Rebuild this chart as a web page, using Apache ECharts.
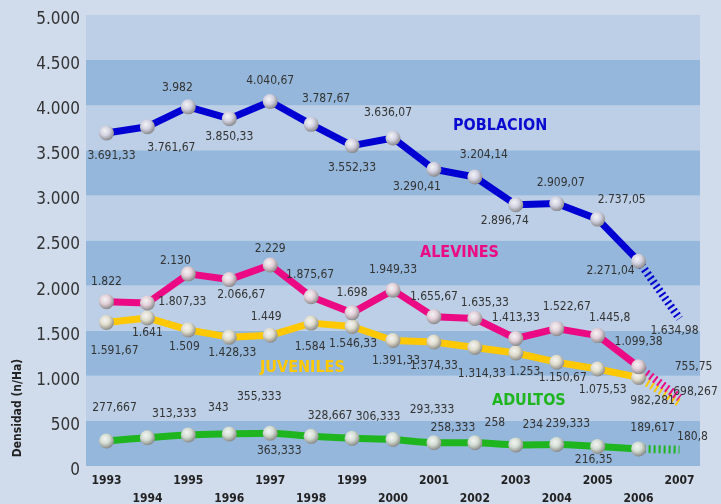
<!DOCTYPE html>
<html>
<head>
<meta charset="utf-8">
<script src="https://cdn.jsdelivr.net/npm/echarts@6/dist/echarts.min.js"></script>
<style>
    html, body { margin: 0; padding: 0; background: #d0dcec; }
    #chart { width: 721px; height: 504px; }
</style>
</head>
<body>
<div id="chart"></div>
<script>
const years = ["1993", "1994", "1995", "1996", "1997", "1998", "1999", "2000",
    "2001", "2002", "2003", "2004", "2005", "2006", "2007"];

const poblacion = [3691.33, 3761.67, 3982, 3850.33, 4040.67, 3787.67, 3552.33, 3636.07,
    3290.41, 3204.14, 2896.74, 2909.07, 2737.05, 2271.04, 1634.98];
const alevines = [1822, 1807.33, 2130, 2066.67, 2229, 1875.67, 1698, 1949.33,
    1655.67, 1635.33, 1413.33, 1522.67, 1445.8, 1099.38, 755.75];
const juveniles = [1591.67, 1641, 1509, 1428.33, 1449, 1584, 1546.33, 1391.33,
    1374.33, 1314.33, 1253, 1150.67, 1075.53, 982.281, 698.267];
const adultos = [277.667, 313.333, 343, 355.333, 363.333, 328.667, 306.333, 293.333,
    258.333, 258, 234, 239.333, 216.35, 189.617, 180.8];

const yMin = 0;
const yMax = 5000;
const yStep = 500;

// where each value label sits relative to its point (layout only)
const labelOffsets = {
    POBLACION: [[5, 23], [24, 21], [-11, -19], [0, 18], [0, -21], [15, -25], [0, 22], [-5, -25],
        [-17, 18], [9, -22], [-11, 16], [4, -21], [24, -19], [-28, 10], [-5, 12]],
    ALEVINES: [[0, -20], [35, -1], [-13, -13], [12, 15], [0, -16], [-1, -22], [0, -20], [0, -20],
        [0, -20], [10, -16], [0, -21], [10, -22], [12, -18], [0, -25], [14, -31]],
    JUVENILES: [[8, 28], [0, 15], [-4, 17], [3, 16], [-4, -18], [-1, 24], [1, 17], [3, 20],
        [0, 24], [7, 26], [9, 19], [6, 16], [5, 21], [14, 23], [16, -11]],
    ADULTOS: [[8, -33], [27, -24], [30, -27], [30, -37], [9, 18], [19, -20], [26, -21], [39, -30],
        [19, -15], [20, -20], [17, -20], [11, -21], [-4, 13], [14, -21], [13, -13]],
};

function fmtEs(v) {
    const parts = String(v).split(".");
    const int = parts[0].replace(/\B(?=(\d{3})+(?!\d))/g, ".");
    return parts.length > 1 ? int + "," + parts[1] : int;
}

function ball(tint) {
    return {
        type: "radial", x: 0.4, y: 0.35, r: 0.7,
        colorStops: [
            { offset: 0, color: "#f4f4f4" },
            { offset: 0.45, color: tint },
            { offset: 1, color: "#808080" },
        ],
    };
}

const labelFont = {
    fontFamily: "DejaVu Sans Condensed",
    fontSize: 12,
    color: "#333",
};

function buildSeries(name, values, color, tint, smooth) {
    const last = values.length - 1;
    const offsets = labelOffsets[name];
    const solid = values.map((v, i) => {
        if (i === last) return "-";
        return { value: v, label: { offset: offsets[i] } };
    });
    const dashed = values.map((v, i) => {
        if (i === last) {
            return {
                value: v,
                symbolSize: 2,
                itemStyle: { color: "rgba(0,0,0,0)" },
                label: { show: true, offset: offsets[i] },
            };
        }
        if (i === last - 1) {
            return { value: v, symbolSize: 0, itemStyle: { color: "rgba(0,0,0,0)" }, label: { show: false } };
        }
        return "-";
    });
    const fmt = (p) => fmtEs(p.value);
    return [
        {
            name: name,
            type: "line",
            data: solid,
            smooth: smooth,
            symbol: "circle",
            symbolSize: 15,
            itemStyle: { color: ball(tint) },
            lineStyle: { color: color, width: 7 },
            label: Object.assign({ show: true, position: "inside", formatter: fmt }, labelFont),
            z: 3,
        },
        {
            name: name + "_proj",
            type: "line",
            data: dashed,
            symbol: "circle",
            lineStyle: { color: color, width: 8, type: [2, 3] },
            label: Object.assign({ show: false, position: "inside", formatter: fmt }, labelFont),
            z: 2,
        },
    ];
}

const series = [].concat(
    buildSeries("ADULTOS", adultos, "#1fb51f", "#d3ddd3", 0.3),
    buildSeries("JUVENILES", juveniles, "#ffc800", "#e0ddcc", false),
    buildSeries("ALEVINES", alevines, "#ec0a84", "#e3d0d9", false),
    buildSeries("POBLACION", poblacion, "#0000d2", "#d2d2e3", false)
);

const seriesTitle = (text, x, y, color) => ({
    type: "text",
    x: x,
    y: y,
    z: 100,
    style: {
        text: text,
        fill: color,
        fontFamily: "DejaVu Sans Condensed",
        fontWeight: "bold",
        fontSize: 16,
    },
});

const chart = echarts.init(document.getElementById("chart"));
chart.setOption({
    backgroundColor: "#d0dcec",
    animation: false,
    grid: { left: 86, right: 21, top: 15, bottom: 38, outerBoundsMode: "none" },
    xAxis: {
        type: "category",
        data: years,
        boundaryGap: true,
        axisLine: { show: false },
        axisTick: { show: false },
        axisLabel: {
            interval: 0,
            margin: 6,
            fontFamily: "DejaVu Sans Condensed",
            fontWeight: "bold",
            fontSize: 12,
            lineHeight: 18,
            color: "#222",
            formatter: (v, i) => (i % 2 === 0 ? v : "\n" + v),
        },
    },
    yAxis: {
        type: "value",
        min: yMin,
        max: yMax,
        interval: yStep,
        axisLine: { show: false },
        axisTick: { show: false },
        splitLine: { show: false },
        splitArea: { show: true, areaStyle: { color: ["#95b7db", "#bccfe6"] } },
        axisLabel: {
            margin: 6,
            formatter: (v) => "{t|" + fmtEs(v) + "}",
            rich: {
                t: {
                    fontFamily: "DejaVu Sans Condensed",
                    fontSize: 17,
                    color: "#333",
                    padding: [9, 0, 0, 0],
                },
            },
        },
    },
    graphic: [
        {
            type: "text",
            x: 18,
            y: 408,
            z: 100,
            rotation: Math.PI / 2,
            style: {
                text: "Densidad (n/Ha)",
                fill: "#222",
                fontFamily: "DejaVu Sans Condensed",
                fontWeight: "bold",
                fontSize: 12,
                align: "center",
                verticalAlign: "middle",
            },
        },
        seriesTitle("POBLACION", 453, 118, "#0a0ad0"),
        seriesTitle("ALEVINES", 420, 245, "#ec0a84"),
        seriesTitle("JUVENILES", 260, 360, "#ffc800"),
        seriesTitle("ADULTOS", 492, 393, "#1fb51f"),
    ],
    series: series,
});
</script>
</body>
</html>
